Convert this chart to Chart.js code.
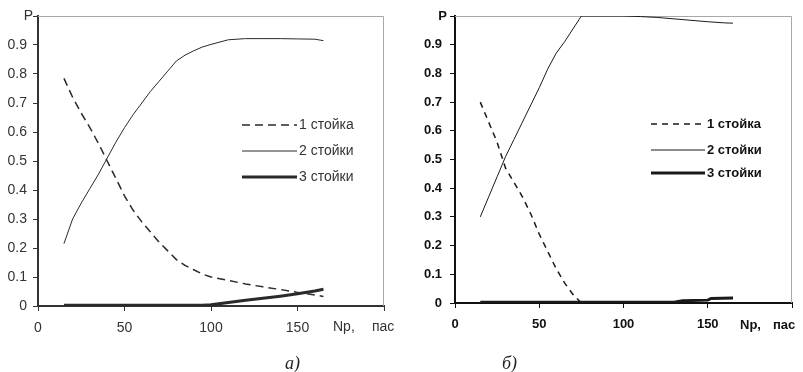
<!DOCTYPE html>
<html>
<head>
<meta charset="utf-8">
<script src="https://cdn.jsdelivr.net/npm/chart.js@4/dist/chart.umd.min.js"></script>
<style>
html,body{margin:0;padding:0;background:#fff;}
#wrap{position:relative;width:803px;height:372px;overflow:hidden;background:#fff;}
canvas{position:absolute;top:0;}
.cap{position:absolute;font:italic 18px "Liberation Serif","DejaVu Serif",serif;color:#222;line-height:20px;}
</style>
</head>
<body>
<div id="wrap">
  <canvas id="chA" width="400" height="372" style="left:0"></canvas>
  <canvas id="chB" width="403" height="372" style="left:400px"></canvas>
  <div class="cap" style="left:285px;top:353px">а)</div>
  <div class="cap" style="left:502px;top:353px">б)</div>
</div>
<script>
// Series names (legend)
const seriesNames = ['1 стойка', '2 стойки', '3 стойки'];
// Axis captions
const yAxisTitle = 'P';
const xAxisTitle = ['Np,', 'пас'];

// Panel а): number of passes and probabilities
const npA = [15, 20, 25, 30, 35, 40, 45, 50, 55, 60, 65, 70, 75, 80, 85, 90, 95, 100, 110, 120, 130, 140, 150, 160, 165];
const pA1 = [0.785, 0.72, 0.665, 0.615, 0.56, 0.50, 0.44, 0.38, 0.33, 0.29, 0.255, 0.22, 0.19, 0.16, 0.14, 0.125, 0.11, 0.10, 0.088, 0.076, 0.066, 0.057, 0.047, 0.038, 0.033];
const pA2 = [0.215, 0.30, 0.355, 0.405, 0.455, 0.51, 0.565, 0.615, 0.66, 0.70, 0.74, 0.775, 0.81, 0.845, 0.865, 0.88, 0.893, 0.902, 0.918, 0.922, 0.922, 0.922, 0.921, 0.92, 0.915];
const pA3 = [0.003, 0.003, 0.003, 0.003, 0.003, 0.003, 0.003, 0.003, 0.003, 0.003, 0.003, 0.003, 0.003, 0.003, 0.003, 0.003, 0.003, 0.004, 0.012, 0.02, 0.027, 0.034, 0.042, 0.052, 0.058];

// Panel б)
const npB1 = [15, 20, 25, 30, 35, 40, 45, 50, 55, 60, 65, 70, 75];
const pB1 = [0.70, 0.63, 0.56, 0.47, 0.42, 0.37, 0.31, 0.24, 0.18, 0.12, 0.07, 0.03, 0.0];
const npB2 = [15, 20, 25, 30, 35, 40, 45, 50, 55, 60, 65, 70, 75, 80, 90, 100, 110, 120, 130, 140, 150, 160, 165];
const pB2 = [0.30, 0.37, 0.44, 0.51, 0.57, 0.63, 0.69, 0.75, 0.815, 0.87, 0.91, 0.955, 1.0, 1.0, 1.0, 1.0, 0.998, 0.995, 0.99, 0.985, 0.98, 0.976, 0.975];
const npB3 = [15, 130, 135, 150, 152, 165];
const pB3 = [0.003, 0.003, 0.008, 0.01, 0.016, 0.017];

function pts(xs, ys) { return xs.map((x, i) => ({ x: x, y: ys[i] })); }

function decor(o) {
  return {
    id: 'decor',
    beforeDatasetsDraw(chart) {
      const { ctx, chartArea: a } = chart;
      ctx.save();
      ctx.strokeStyle = o.frameColor;
      ctx.lineWidth = 1;
      ctx.beginPath();
      ctx.moveTo(a.left, a.top + 0.5);
      ctx.lineTo(a.right - 0.5, a.top + 0.5);
      ctx.lineTo(a.right - 0.5, a.bottom);
      ctx.stroke();
      ctx.restore();
    },
    afterDraw(chart) {
      const { ctx, chartArea: a, scales } = chart;
      const x = scales.x, y = scales.y;
      ctx.save();
      ctx.fillStyle = o.textColor;
      ctx.font = o.font;
      ctx.textBaseline = 'middle';
      ctx.textAlign = 'right';
      ctx.fillText(yAxisTitle, a.left - o.pGap, y.getPixelForValue(1));
      ctx.textAlign = 'left';
      const xr = x.getPixelForValue(200);
      ctx.fillText(xAxisTitle[0], xr + o.npDx, a.bottom + o.xTitleDy);
      ctx.fillText(xAxisTitle[1], xr + o.pasDx, a.bottom + o.xTitleDy);
      ctx.font = o.legendFont;
      chart.data.datasets.forEach((ds, i) => {
        const ly = o.legendY[i];
        ctx.strokeStyle = ds.borderColor;
        ctx.lineWidth = ds.borderWidth;
        ctx.setLineDash(ds.borderDash || []);
        ctx.beginPath();
        ctx.moveTo(o.legendX0, ly);
        ctx.lineTo(o.legendX1, ly);
        ctx.stroke();
        ctx.setLineDash([]);
        ctx.fillText(ds.label, o.legendX1 + 2, ly);
      });
      ctx.restore();
    }
  };
}

function build(id, datasets, o) {
  return new Chart(document.getElementById(id), {
    type: 'line',
    data: { datasets: datasets },
    options: {
      responsive: false,
      animation: false,
      events: [],
      layout: { padding: { top: o.padTop, right: o.padRight, left: 0, bottom: 0 } },
      plugins: { legend: { display: false }, tooltip: { enabled: false } },
      elements: { point: { radius: 0 }, line: { tension: 0 } },
      scales: {
        x: {
          type: 'linear', min: 0, max: 200,
          afterFit(s) { s.height = o.xHeight; },
          ticks: {
            stepSize: 50, color: o.textColor, font: o.tickFont, padding: o.xPad, maxRotation: 0,
            callback: v => (v >= 200 ? '' : String(v))
          },
          grid: { drawOnChartArea: false, drawTicks: true, tickLength: 5, color: o.axisColor, lineWidth: 1 },
          border: { display: true, color: o.axisColor, width: 2 }
        },
        y: {
          type: 'linear', min: 0, max: 1,
          afterFit(s) { s.width = o.yWidth; },
          ticks: {
            stepSize: 0.1, color: o.textColor, font: o.tickFont, padding: o.yPad,
            callback: v => (v > 0.999 ? '' : (v < 0.001 ? '0' : v.toFixed(1)))
          },
          grid: { drawOnChartArea: false, drawTicks: true, tickLength: 5, color: o.axisColor, lineWidth: 1 },
          border: { display: true, color: o.axisColor, width: 2 }
        }
      }
    },
    plugins: [decor(o)]
  });
}

const lineStyle = (c) => ([
  { borderColor: c, borderWidth: 1.5, borderDash: [8, 5] },
  { borderColor: c, borderWidth: 1, borderDash: [] },
  { borderColor: c, borderWidth: 3, borderDash: [] }
]);

const stA = lineStyle('#2a2a2a');
build('chA', [
  Object.assign({ label: seriesNames[0], data: pts(npA, pA1) }, stA[0]),
  Object.assign({ label: seriesNames[1], data: pts(npA, pA2) }, stA[1]),
  Object.assign({ label: seriesNames[2], data: pts(npA, pA3) }, stA[2])
], {
  padTop: 16, padRight: 16, xHeight: 66, yWidth: 38, xPad: 9, yPad: 6,
  textColor: '#333', axisColor: '#333', frameColor: '#a8a8a8',
  tickFont: { family: '"Liberation Sans", Arial, sans-serif', size: 14 },
  font: '14px "Liberation Sans", Arial, sans-serif',
  legendFont: '14px "Liberation Sans", Arial, sans-serif',
  pGap: 5, npDx: -51, pasDx: -12, xTitleDy: 21,
  legendX0: 242, legendX1: 297, legendY: [125, 151, 177]
});

const stB = lineStyle('#1a1a1a');
stB[0].borderDash = [6, 5];
build('chB', [
  Object.assign({ label: seriesNames[0], data: pts(npB1, pB1) }, stB[0]),
  Object.assign({ label: seriesNames[1], data: pts(npB2, pB2) }, stB[1]),
  Object.assign({ label: seriesNames[2], data: pts(npB3, pB3) }, stB[2])
], {
  padTop: 16, padRight: 11, xHeight: 69, yWidth: 55, xPad: 9, yPad: 8,
  textColor: '#111', axisColor: '#111', frameColor: '#a8a8a8',
  tickFont: { family: '"Liberation Sans", Arial, sans-serif', size: 13, weight: 'bold' },
  font: 'bold 13px "Liberation Sans", Arial, sans-serif',
  legendFont: 'bold 13px "Liberation Sans", Arial, sans-serif',
  pGap: 8, npDx: -52, pasDx: -19, xTitleDy: 22,
  legendX0: 251, legendX1: 305, legendY: [124, 150, 173]
});
</script>
</body>
</html>
